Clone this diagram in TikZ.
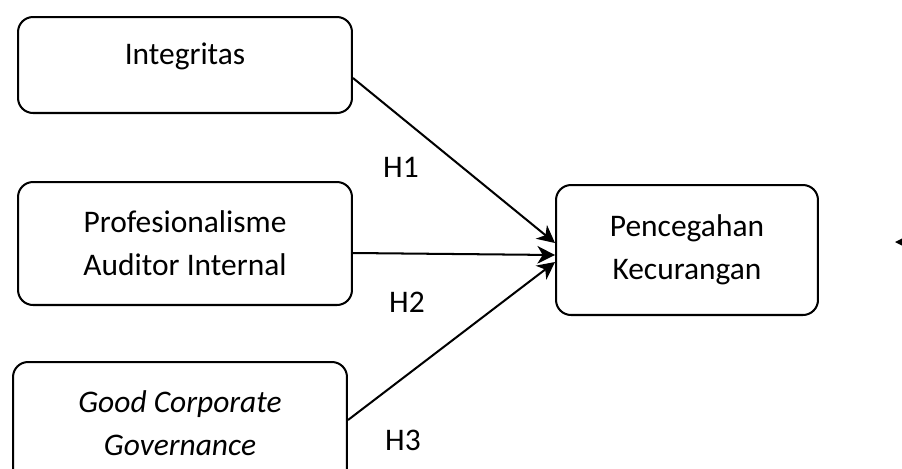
\documentclass[tikz,border=0pt]{standalone}
\usepackage{fontspec}
\setmainfont{Carlito}
\usetikzlibrary{arrows.meta}
\begin{document}
\begin{tikzpicture}[x=0.02cm,y=-0.02cm]
\tikzstyle{box}=[draw,line width=1.15pt,rounded corners=0.3cm,align=center,font=\fontsize{17.9}{24.4}\selectfont];
\tikzstyle{arr}=[line width=1.15pt,-{Stealth[length=10pt,width=10pt,inset=3pt]}];
\tikzstyle{lbl}=[font=\fontsize{17.9}{24.4}\selectfont];
\useasboundingbox (0,0) rectangle (902,468);
\node[box,minimum width=6.68cm,minimum height=1.92cm,text depth=0.45cm] (integ) at (185,65) {Integritas};
\node[box,minimum width=6.68cm,minimum height=2.46cm] (prof) at (185,243.5) {Profesionalisme\\Auditor Internal};
\node[box,minimum width=6.68cm,minimum height=2.44cm,font=\fontsize{17.9}{24.4}\selectfont\itshape] (gcg) at (180,423) {Good Corporate\\Governance};
\node[box,minimum width=5.24cm,minimum height=2.6cm] (pen) at (687,250) {Pencegahan\\Kecurangan};
\node[lbl] (h1) at (401,167) {H1};
\node[lbl] (h2) at (407,302) {H2};
\node[lbl] (h3) at (403,440) {H3};
\coordinate (rt) at (895,242);
\coordinate (rtout) at (935,242);
\draw[arr] ([yshift=-0.26cm]integ.east) -- ([yshift=0.14cm]pen.west);
\draw[arr] ([yshift=-0.19cm]prof.east) -- ([yshift=-0.1cm]pen.west);
\draw[arr] ([yshift=0.06cm]gcg.east) -- ([yshift=-0.24cm]pen.west);
\draw[arr] (rtout) -- (rt);
\end{tikzpicture}
\end{document}
